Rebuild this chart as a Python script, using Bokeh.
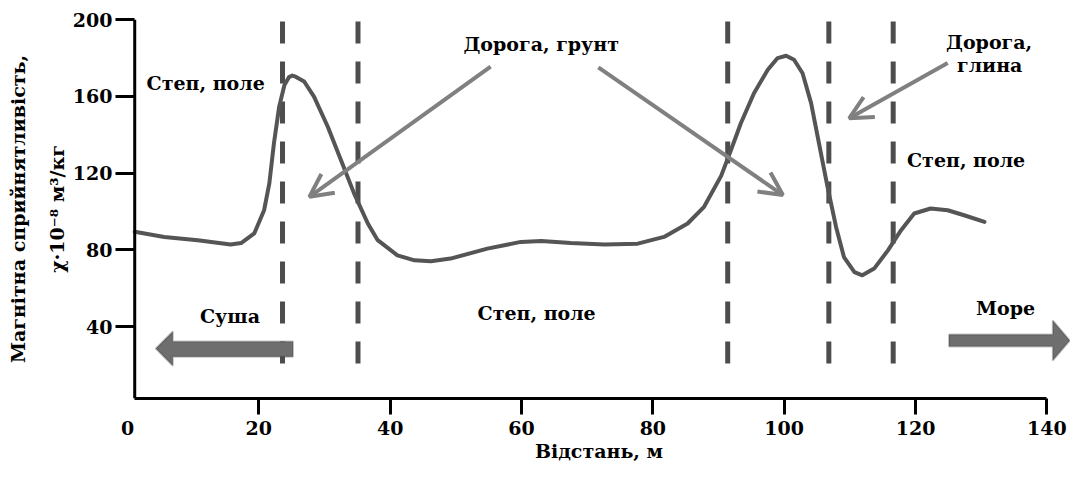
from bokeh.plotting import figure
from bokeh.models import Range1d, FixedTicker, Arrow, OpenHead, PolyAnnotation, LinearAxis, Span
from bokeh.embed import file_html
from bokeh.resources import INLINE
from bokeh.core.properties import value

# ---- data ----
distance = [1.1, 5.6, 10.7, 15.7, 17.3, 19.3, 20.8, 21.6, 22.3, 23.1, 23.9, 24.6, 25.1, 25.6,
            26.9, 28.4, 30.5, 32.5, 34.5, 36.6, 38.1, 41.1, 43.7, 46.2, 49.2, 54.8,
            59.9, 63.0, 67.5, 72.6, 77.7, 81.7, 85.3, 87.8, 90.4, 91.9, 93.4, 95.4, 97.5,
            99.0, 100.3, 101.5, 102.8, 104.1, 105.3, 106.6, 107.9, 109.1, 110.7, 111.9, 113.7, 115.8,
            117.8, 119.8, 122.3, 124.9, 127.4, 130.5]
susceptibility = [89.4, 86.7, 85.0, 82.7, 83.5, 88.5, 100.6, 114.6, 135.5, 154.6, 165.9, 170.0, 170.8, 170.2,
                  167.7, 159.8, 144.1, 126.8, 109.4, 93.7, 85.0, 77.1, 74.5, 74.0, 75.4, 80.6,
                  84.1, 84.6, 83.5, 82.7, 83.2, 86.7, 93.7, 102.4, 118.5, 132.0, 145.9, 161.6, 173.8,
                  179.9, 181.1, 179.0, 172.0, 156.4, 135.5, 112.8, 91.9, 76.2, 68.4, 66.7, 70.2, 79.7,
                  90.2, 98.9, 101.5, 100.6, 98.0, 94.5]

boundaries = [23.6, 35.1, 91.4, 106.8, 116.6]
x_ticks = [20, 40, 60, 80, 100, 120, 140]
x_tick_labels = [0, 20, 40, 60, 80, 100, 120, 140]
y_ticks = [40, 80, 120, 160, 200]

label_texts = ["Степ, поле", "Дорога, грунт", "Дорога,", "глина", "Степ, поле", "Суша", "Степ, поле", "Море"]
label_x = [11.9, 63.0, 131.2, 131.3, 127.7, 15.6, 62.3, 133.7]
label_y = [166.8, 187.4, 188.2, 176.3, 126.6, 45.7, 47.0, 49.8]

arrow_x0 = [55.3, 71.7, 124.9]
arrow_y0 = [175.5, 175.0, 177.3]
arrow_x1 = [27.7, 99.8, 109.9]
arrow_y1 = [107.6, 108.5, 148.5]

land_arrow_x = [4.3, 6.9, 6.9, 25.2, 25.2, 6.9, 6.9]
land_arrow_y = [28.5, 37.4, 32.2, 32.2, 24.3, 24.3, 19.6]
sea_arrow_x = [143.5, 140.9, 140.9, 125.1, 125.1, 140.9, 140.9]
sea_arrow_y = [32.7, 43.2, 35.8, 35.8, 29.6, 29.6, 22.3]

FONT = "DejaVu Serif"
X_START = 1.1   # where the drawn axes begin

p = figure(width=1070, height=464,
           x_range=Range1d(0, 143.6), y_range=Range1d(2.5, 200),
           output_backend="svg", toolbar_location=None,
           min_border_left=127, min_border_right=0,
           min_border_top=19, min_border_bottom=60)
p.outline_line_color = None
p.grid.visible = False
p.background_fill_color = "white"

# ---- x axis: line + tick marks (minor ticks carry no labels) ----
xa = p.xaxis[0]
xa.ticker = FixedTicker(ticks=[], minor_ticks=x_ticks)
xa.bounds = (X_START, 140)
xa.axis_line_width = 3
xa.axis_line_color = "black"
xa.major_tick_out = 16
xa.major_tick_in = 0
xa.minor_tick_line_width = 3
xa.minor_tick_line_color = "black"
xa.minor_tick_in = 0
xa.minor_tick_out = 16
xa.major_label_standoff = 0

# ---- x axis: labels (incl. the origin "0") + title ----
xb = LinearAxis(ticker=FixedTicker(ticks=x_tick_labels))
xb.axis_line_color = None
xb.major_tick_line_color = None
xb.major_tick_in = 0
xb.major_tick_out = 0
xb.minor_tick_line_color = None
xb.major_label_text_font = FONT
xb.major_label_text_font_style = "bold"
xb.major_label_text_font_size = "19px"
xb.major_label_text_color = "black"
xb.major_label_standoff = 6
xb.axis_label = "Відстань, м"
xb.axis_label_text_font = FONT
xb.axis_label_text_font_style = "bold"
xb.axis_label_text_font_size = "19px"
xb.axis_label_text_color = "black"
xb.axis_label_standoff = 2
p.add_layout(xb, "below")

# ---- y axis (line drawn as a span at X_START, ticks reach it) ----
ya = p.yaxis[0]
ya.ticker = FixedTicker(ticks=y_ticks)
ya.axis_line_color = None
ya.major_tick_line_width = 3
ya.major_tick_line_color = "black"
ya.major_tick_in = 7
ya.major_tick_out = 12
ya.minor_tick_line_color = None
ya.major_label_text_font = FONT
ya.major_label_text_font_style = "bold"
ya.major_label_text_font_size = "19px"
ya.major_label_text_color = "black"
ya.major_label_standoff = 3
ya.axis_label = "Магнітна сприйнятливість,\nχ·10⁻⁸ м³/кг"
ya.axis_label_text_font = FONT
ya.axis_label_text_font_style = "bold"
ya.axis_label_text_font_size = "19px"
ya.axis_label_text_line_height = 1.75
ya.axis_label_text_color = "black"
ya.axis_label_standoff = 2
p.add_layout(Span(location=X_START, dimension="height", line_width=3, line_color="black"))

# boundaries
p.segment(x0=boundaries, y0=[199] * len(boundaries), x1=boundaries, y1=[16] * len(boundaries),
          line_dash="22 18", line_width=5, line_color="#4d4d4d")

# curve
p.line(distance, susceptibility, line_width=4, line_color="#555555",
       line_join="round", line_cap="round")

# text labels
p.text(x=label_x, y=label_y, text=label_texts, text_font=value(FONT), text_font_style="bold",
       text_font_size="19px", text_align="center", text_baseline="middle", text_color="black")

# gray arrows
for xs, ys, xe, ye in zip(arrow_x0, arrow_y0, arrow_x1, arrow_y1):
    p.add_layout(Arrow(x_start=xs, y_start=ys, x_end=xe, y_end=ye,
                       line_width=4, line_color="#808080",
                       end=OpenHead(size=23, line_width=4, line_color="#808080")))

# block arrows
for xs, ys in ((land_arrow_x, land_arrow_y), (sea_arrow_x, sea_arrow_y)):
    p.add_layout(PolyAnnotation(xs=xs, ys=ys, fill_color="#6e6e6e", fill_alpha=1.0,
                                line_color="#3c3c3c", line_width=2))

open("out.html", "w").write(file_html(p, INLINE))
